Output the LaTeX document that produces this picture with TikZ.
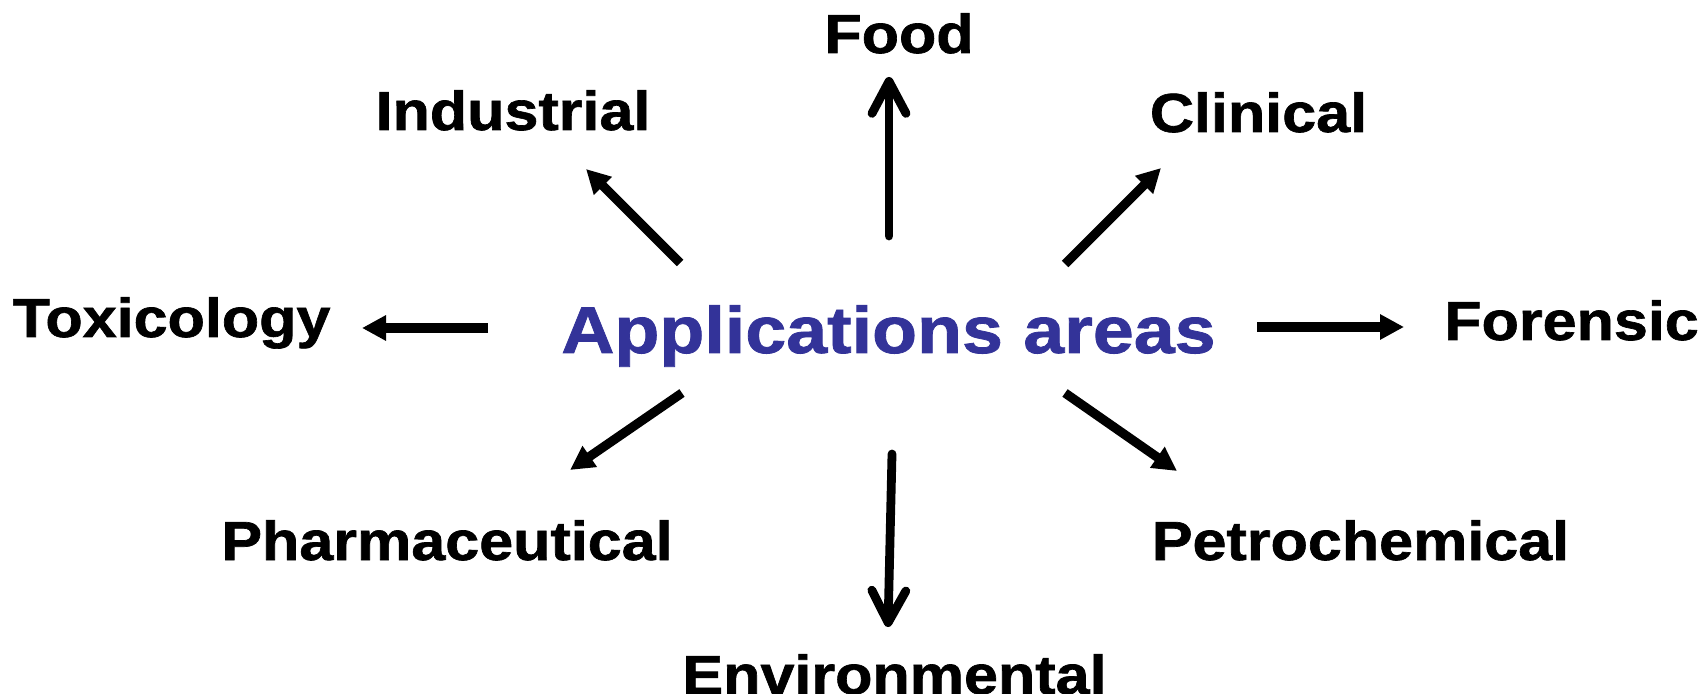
\documentclass[tikz,border=0pt]{standalone}
\usepackage{fontspec}
\usetikzlibrary{arrows.meta}
\newfontfamily\labfont[FakeStretch=1.11,FakeBold=1.2]{Liberation Sans}
\newfontfamily\hubfont[FakeStretch=1.115,FakeBold=1.2]{Liberation Sans}
\definecolor{appblue}{HTML}{333399}
\begin{document}
\begin{tikzpicture}[x=0.5pt,y=-0.5pt,
  lab/.style={inner sep=0pt,outer sep=0pt,anchor=base,font=\labfont\bfseries\fontsize{27.5pt}{30pt}\selectfont},
  hub/.style={inner sep=0pt,outer sep=0pt,anchor=base,text=appblue,font=\hubfont\bfseries\fontsize{33pt}{36pt}\selectfont},
  tri/.style={line width=4.6pt,-{Triangle[length=12pt,width=12pt]}},
  barb/.style={line width=4.4pt,line cap=round,-{Straight Barb[length=16pt,width=17pt,line cap=round,line join=round]}}]
\useasboundingbox (0,0) rectangle (1702,694);
\node[hub] (app) at (888.5,353) {Applications areas};
\node[lab] (food) at (899,53) {Food};
\node[lab] (ind) at (513,130) {Industrial};
\node[lab] (clin) at (1258.5,132) {Clinical};
\node[lab] (tox) at (171.5,337) {Toxicology};
\node[lab] (for) at (1571.5,340) {Forensic};
\node[lab] (pharm) at (447,560) {Pharmaceutical};
\node[lab] (petro) at (1360.5,560) {Petrochemical};
\node[lab] (env) at (894.5,694) {Environmental};
% arrow ends
\coordinate (foodT) at (889,236); \coordinate (foodH) at (889,77);
\coordinate (indT) at (680,263);  \coordinate (indH) at (586,169);
\coordinate (clinT) at (1065,264); \coordinate (clinH) at (1161,168);
\coordinate (toxT) at (488,328);  \coordinate (toxH) at (362,328);
\coordinate (forT) at (1257,327); \coordinate (forH) at (1404,327);
\coordinate (pharmT) at (682,393); \coordinate (pharmH) at (570,470);
\coordinate (envT) at (892,454);  \coordinate (envH) at (888,627);
\coordinate (petroT) at (1065,393); \coordinate (petroH) at (1177,471);
\draw[barb] (foodT) -- (foodH);
\draw[tri] (indT) -- (indH);
\draw[tri] (clinT) -- (clinH);
\draw[tri] (toxT) -- (toxH);
\draw[tri] (forT) -- (forH);
\draw[tri] (pharmT) -- (pharmH);
\draw[barb] (envT) -- (envH);
\draw[tri] (petroT) -- (petroH);
\end{tikzpicture}
\end{document}
